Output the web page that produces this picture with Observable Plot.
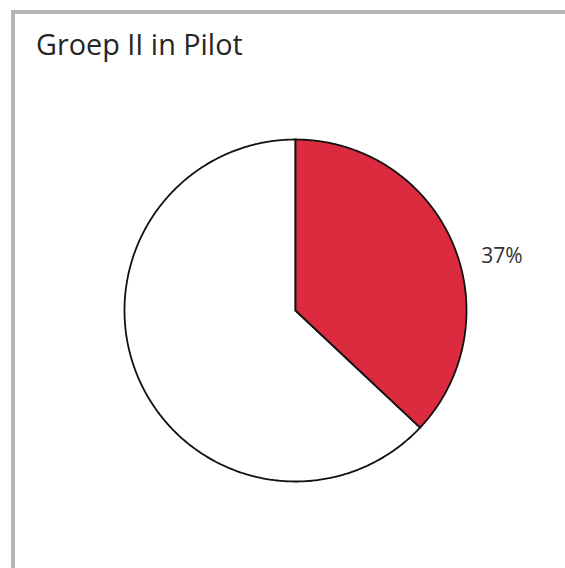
<!DOCTYPE html>
<html>
<head>
<meta charset="utf-8">
<script src="https://cdn.jsdelivr.net/npm/d3@7"></script>
<script src="https://cdn.jsdelivr.net/npm/@observablehq/plot@0.6"></script>
<style>
  html, body { margin: 0; padding: 0; background: #fff; width: 565px; height: 568px; overflow: hidden; }
  #frame { position: absolute; left: 11px; top: 10px; width: 600px; height: 600px;
           border-top: 4px solid #b4b4b4; border-left: 4px solid #b4b4b4; box-sizing: border-box; }
  #title { position: absolute; left: 36px; top: 25px; margin: 0;
           font-family: "Open Sans", sans-serif; font-size: 28.8px; font-weight: 400; color: #262626;
           line-height: 38px; white-space: nowrap; }
  #chart { position: absolute; left: 0; top: 80px; }
</style>
</head>
<body>
<div id="frame"></div>
<h2 id="title">Groep II in Pilot</h2>
<div id="chart"></div>
<script>
const categories = ["Pilot", "Overig"];
const values = [37, 63];
const sliceLabels = ["37%", ""];
const colors = ["#dc2a3f", "#ffffff"];

const arcs = d3.pie().sort(null)(values);

// polygon outline for each slice in unit coordinates (y up)
function slicePoints(a, cat) {
  const pts = [{cat, x: 0, y: 0}];
  const n = Math.max(2, Math.ceil((a.endAngle - a.startAngle) / (Math.PI / 360)));
  for (let i = 0; i <= n; i++) {
    const t = a.startAngle + (a.endAngle - a.startAngle) * i / n;
    pts.push({cat, x: Math.sin(t), y: Math.cos(t)});
  }
  pts.push({cat, x: 0, y: 0});
  return pts;
}

const sliceMarks = arcs
  .map((a, i) => ({a, i}))
  .sort((p, q) => (p.i === 0) - (q.i === 0)) // draw coloured slice on top
  .map(({a, i}) => Plot.line(slicePoints(a, categories[i]), {
    x: "x", y: "y", fill: colors[i], stroke: "#111", strokeWidth: 1.8, strokeLinejoin: "round"
  }));

const labelData = arcs.map((a, i) => {
  const mid = (a.startAngle + a.endAngle) / 2;
  return {label: sliceLabels[i], x: 1.2 * Math.sin(mid), y: 1.2 * Math.cos(mid)};
}).filter(d => d.label);

const R = 171, cx = 295, cy = 230;
const chart = Plot.plot({
  width: 565,
  height: 488,
  margin: 0,
  x: {domain: [-1, 1], range: [cx - R, cx + R], axis: null},
  y: {domain: [-1, 1], range: [cy + R, cy - R], axis: null},
  style: {background: "transparent", overflow: "visible"},
  marks: [
    ...sliceMarks,
    Plot.text(labelData, {
      x: "x", y: "y", text: "label", dx: 18, dy: 27,
      fontSize: 21, fill: "#333", textAnchor: "middle",
      fontFamily: "Open Sans, sans-serif", letterSpacing: "0.8px"
    })
  ]
});
document.getElementById("chart").appendChild(chart);
</script>
</body>
</html>
